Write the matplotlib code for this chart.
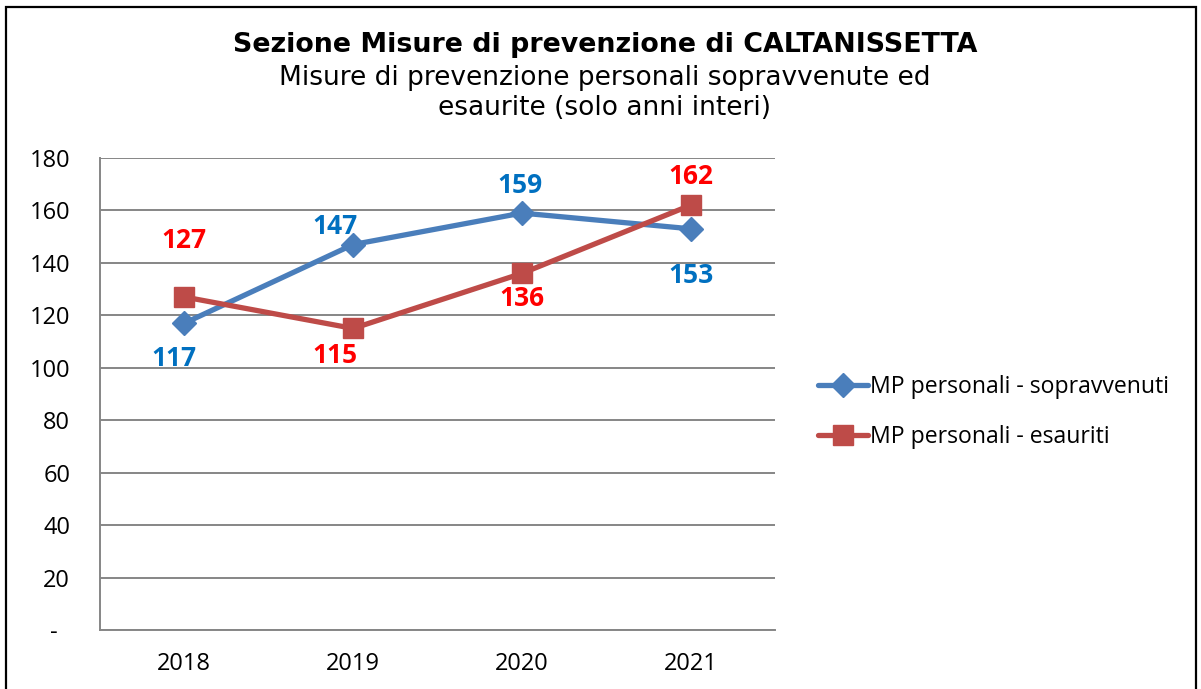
import matplotlib.pyplot as plt
from matplotlib.patches import Rectangle
from matplotlib.ticker import FuncFormatter, MultipleLocator

years = ['2018', '2019', '2020', '2021']
sopravvenuti = [117, 147, 159, 153]
esauriti = [127, 115, 136, 162]

# label offsets in pixels (as placed in the original chart)
off_sop = [(-10, -35), (-18, 18), (-2, 28), (0, -47)]
off_esa = [(0, 56), (-18, -27), (0, -25), (0, 29)]

plt.rcParams['font.family'] = ['Open Sans', 'DejaVu Sans']

fig = plt.figure(figsize=(12.01, 6.89), dpi=100)
ax = fig.add_axes([100 / 1201, 1 - 630 / 689, 675 / 1201, 472 / 689])

fig.patches.append(Rectangle((6 / 1201, -0.05), 1190 / 1201, 1.05 - 7 / 689,
                             transform=fig.transFigure, fill=False,
                             edgecolor='black', linewidth=1.6))

x = range(len(years))
blue, red = '#4A7EBB', '#BE4B48'
ax.plot(x, sopravvenuti, color=blue, lw=3.8, marker='D', ms=12,
        label='MP personali - sopravvenuti', solid_capstyle='round')
ax.plot(x, esauriti, color=red, lw=3.8, marker='s', ms=14,
        label='MP personali - esauriti', solid_capstyle='round')

for i, v in enumerate(sopravvenuti):
    ax.annotate(str(v), (i, v), xytext=off_sop[i], textcoords='offset pixels',
                ha='center', va='center', color='#0070C0', fontsize=19,
                fontweight='bold')
for i, v in enumerate(esauriti):
    ax.annotate(str(v), (i, v), xytext=off_esa[i], textcoords='offset pixels',
                ha='center', va='center', color='#FF0000', fontsize=19,
                fontweight='bold')

ax.set_xlim(-0.5, 3.5)
ax.set_ylim(0, 180)
ax.set_xticks(list(x))
ax.set_xticklabels(years)
ax.yaxis.set_major_locator(MultipleLocator(20))
ax.yaxis.set_major_formatter(FuncFormatter(lambda v, p: '-  ' if v == 0 else f'{v:.0f}'))
ax.tick_params(axis='both', length=0, labelsize=17)
ax.tick_params(axis='y', pad=21.5)
ax.tick_params(axis='x', pad=16)
ax.grid(axis='y', color='#868686', lw=1.4)
ax.set_axisbelow(True)
for s in ['top', 'right']:
    ax.spines[s].set_visible(False)
for s in ['left', 'bottom']:
    ax.spines[s].set_color('#868686')
    ax.spines[s].set_linewidth(1.4)

fig.text(605 / 1201, 1 - 45 / 689, 'Sezione Misure di prevenzione di CALTANISSETTA',
         ha='center', va='center', fontsize=19.4, fontweight='bold',
         family='DejaVu Sans')
fig.text(605 / 1201, 1 - 93 / 689,
         'Misure di prevenzione personali sopravvenute ed\nesaurite (solo anni interi)',
         ha='center', va='center', fontsize=19, family='DejaVu Sans',
         linespacing=1.22)

ax.legend(loc='center left', bbox_to_anchor=(797 / 1201, 1 - 412 / 689),
          bbox_transform=fig.transFigure, frameon=False, fontsize=16.6,
          handlelength=2.2, handletextpad=0.05, labelspacing=1.1)

fig.savefig('out.png', dpi=100)
